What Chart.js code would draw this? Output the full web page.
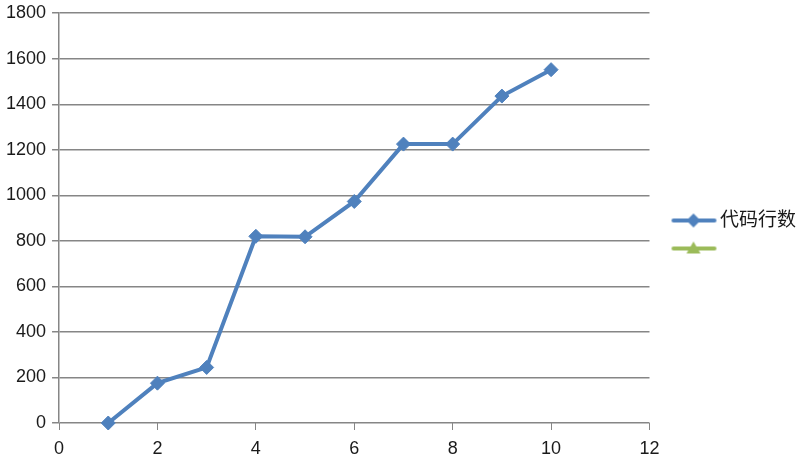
<!DOCTYPE html>
<html>
<head>
<meta charset="utf-8">
<script src="https://cdn.jsdelivr.net/npm/chart.js@4/dist/chart.umd.min.js"></script>
<style>
    html, body { margin: 0; padding: 0; background: #fff; }
    #wrap { width: 806px; height: 460px; }
</style>
</head>
<body>
<div id="wrap"><canvas id="code-chart"></canvas></div>
<script>
// Data
const xValues = [1, 2, 3, 4, 5, 6, 7, 8, 9, 10];
const lineCounts = [0, 175, 244, 820, 818, 973, 1225, 1225, 1436, 1552];
const seriesNames = ['代码行数', ''];
const xTickMax = 12;
const yTickMax = 1800;

const colors = {
    blue: '#4F81BD',
    green: '#9BBB59',
    grid: '#868686',
    text: '#1a1a1a'
};

// legend symbol: short line with a marker in the middle
// (canvas is wider than the legend box so the line sits close to the text)
function legendSymbol(color, shape) {
    const c = document.createElement('canvas');
    c.width = 70;
    c.height = 18;
    const g = c.getContext('2d');
    g.strokeStyle = color;
    g.lineWidth = 4;
    g.lineCap = 'round';
    g.beginPath();
    g.moveTo(24, 9);
    g.lineTo(65, 9);
    g.stroke();
    g.fillStyle = color;
    g.beginPath();
    if (shape === 'diamond') {
        g.moveTo(44, 2); g.lineTo(51, 9); g.lineTo(44, 16); g.lineTo(37, 9);
    } else {
        g.moveTo(44, 2); g.lineTo(51, 14); g.lineTo(37, 14);
    }
    g.closePath();
    g.fill();
    return c;
}

const fontFamily = '"Liberation Sans", "Noto Sans CJK SC", sans-serif';

new Chart(document.getElementById('code-chart'), {
    type: 'scatter',
    data: {
        datasets: [
            {
                label: seriesNames[0],
                data: xValues.map((x, i) => ({ x: x, y: lineCounts[i] })),
                showLine: true,
                clip: false,
                borderColor: colors.blue,
                backgroundColor: colors.blue,
                borderWidth: 4,
                pointStyle: 'rectRot',
                pointRadius: 7,
                pointHoverRadius: 7,
                pointBorderWidth: 1,
                tension: 0
            },
            {
                label: seriesNames[1],
                data: [],
                showLine: true,
                borderColor: colors.green,
                backgroundColor: colors.green,
                borderWidth: 4,
                pointStyle: 'triangle'
            }
        ]
    },
    options: {
        responsive: true,
        maintainAspectRatio: false,
        animation: false,
        layout: {
            padding: { left: 0, top: 1, right: 0, bottom: -8 }
        },
        plugins: {
            legend: {
                position: 'right',
                align: 'center',
                labels: {
                    color: colors.text,
                    font: { family: fontFamily, size: 19 },
                    usePointStyle: true,
                    pointStyleWidth: 52,
                    padding: 9,
                    generateLabels(chart) {
                        return chart.data.datasets.map((ds, i) => ({
                            text: ds.label,
                            datasetIndex: i,
                            pointStyle: legendSymbol(ds.borderColor, i === 0 ? 'diamond' : 'triangle'),
                            fillStyle: ds.borderColor,
                            strokeStyle: ds.borderColor,
                            fontColor: colors.text,
                            lineWidth: 0,
                            hidden: false
                        }));
                    }
                }
            },
            tooltip: { enabled: false }
        },
        scales: {
            x: {
                type: 'linear',
                min: 0,
                max: xTickMax,
                ticks: {
                    stepSize: 2,
                    color: colors.text,
                    padding: 10,
                    font: { family: fontFamily, size: 18, lineHeight: 1 },
                    callback: (v) => String(v)
                },
                grid: {
                    drawOnChartArea: false,
                    drawTicks: true,
                    tickLength: 7,
                    color: colors.grid
                },
                border: { display: false }
            },
            y: {
                min: 0,
                max: yTickMax,
                ticks: {
                    stepSize: 200,
                    color: colors.text,
                    padding: 6,
                    font: { family: fontFamily, size: 18, lineHeight: 0.8 },
                    callback: (v) => String(v)
                },
                grid: {
                    color: colors.grid,
                    lineWidth: 1.5,
                    drawTicks: true,
                    tickLength: 7
                },
                border: { display: true, color: colors.grid, width: 1.5 }
            }
        }
    }
});
</script>
</body>
</html>
